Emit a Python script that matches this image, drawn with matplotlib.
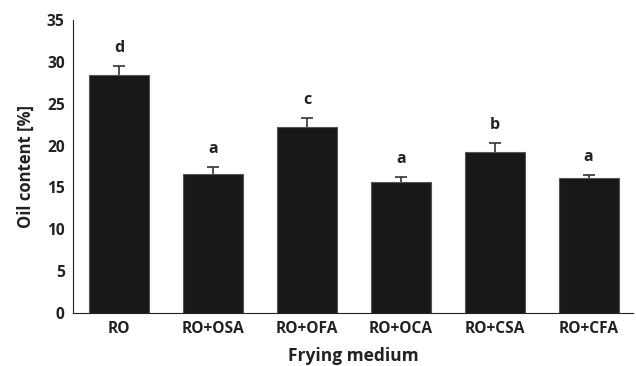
import matplotlib.pyplot as plt

# data
media = ['RO', 'RO+OSA', 'RO+OFA', 'RO+OCA', 'RO+CSA', 'RO+CFA']
oil = [28.4, 16.6, 22.2, 15.7, 19.3, 16.1]
err = [1.1, 0.9, 1.1, 0.6, 1.0, 0.4]
letters = ['d', 'a', 'c', 'a', 'b', 'a']

plt.rcParams['font.family'] = ['Open Sans', 'DejaVu Sans']
plt.rcParams['font.weight'] = 'bold'

fig = plt.figure(figsize=(6.36, 3.66), dpi=100)
ax = fig.add_axes([0.1148, 0.1448, 0.8802, 0.8002])

x = range(len(media))
# symmetric bars drawn behind, so only the upper half shows (Excel style)
ax.errorbar(x, oil, yerr=err, fmt='none', ecolor='#333333',
            elinewidth=1.2, capsize=4, capthick=1.2, zorder=1)
ax.bar(x, oil, width=0.64, color='#181818', edgecolor='#555555', linewidth=0.8, zorder=2)

for xi, v, e, s in zip(x, oil, err, letters):
    ax.text(xi, v + e + 1.2, s, ha='center', va='bottom', fontsize=11.5,
            fontweight='bold', color='#222222')

ax.set_xlim(-0.49, 5.47)
ax.set_ylim(0, 35)
ax.set_yticks(range(0, 36, 5))
ax.set_xticks(list(x))
ax.set_xticklabels(media)
ax.tick_params(length=0, labelsize=11.2, colors='#222222', pad=6)
for lab in ax.get_xticklabels() + ax.get_yticklabels():
    lab.set_fontweight('bold')
ax.spines['top'].set_visible(False)
ax.spines['right'].set_visible(False)
ax.spines['left'].set_color('#222222')
ax.spines['bottom'].set_color('#222222')
ax.set_xlabel('Frying medium', fontsize=12.5, fontweight='bold', color='#222222', labelpad=7)
ax.set_ylabel('Oil content [%]', fontsize=12, fontweight='bold', color='#222222', labelpad=9)

fig.savefig('out.png', dpi=100)
